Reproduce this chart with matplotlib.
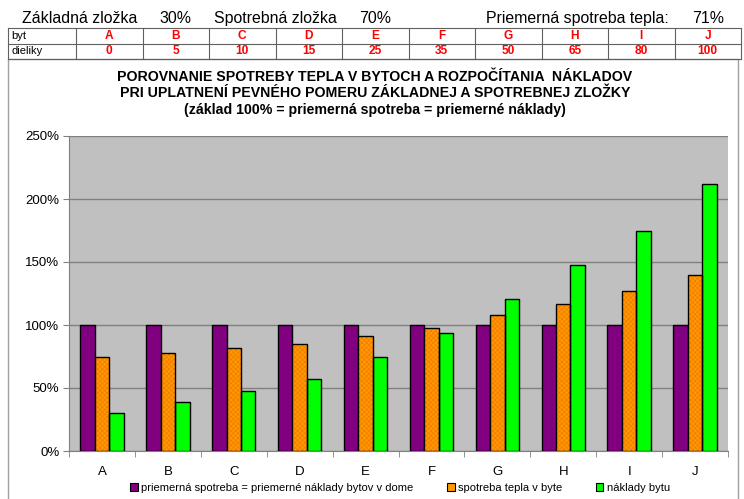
import matplotlib
matplotlib.use("Agg")
import matplotlib.pyplot as plt
from matplotlib.patches import Patch, Rectangle
from matplotlib.lines import Line2D
import numpy as np

plt.rcParams["font.family"] = ["Liberation Sans", "DejaVu Sans"]
plt.rcParams["hatch.linewidth"] = 0.45

W, H = 744, 499

BYTY = ["A", "B", "C", "D", "E", "F", "G", "H", "I", "J"]
DIELIKY = [0, 5, 10, 15, 25, 35, 50, 65, 80, 100]
PRIEMER = [100, 100, 100, 100, 100, 100, 100, 100, 100, 100]
SPOTREBA = [75, 78, 82, 85, 91, 98, 108, 117, 127, 140]
NAKLADY = [30, 39, 48, 57, 75, 94, 121, 148, 175, 212]
SERIES = ["priemerná spotreba = priemerné náklady bytov v dome",
          "spotreba tepla v byte", "náklady bytu"]
HEADER = [("Základná zložka", 22), ("30%", 159), ("Spotrebná zložka", 214),
          ("70%", 359), ("Priemerná spotreba tepla:", 486), ("71%", 692)]
TITLE = ["POROVNANIE SPOTREBY TEPLA V BYTOCH A ROZPOČÍTANIA  NÁKLADOV",
         "PRI UPLATNENÍ PEVNÉHO POMERU ZÁKLADNEJ A SPOTREBNEJ ZLOŽKY",
         "(základ 100% = priemerná spotreba = priemerné náklady)"]

PURPLE, ORANGE, GREEN = "#800080", "#FF9900", "#00FF00"


def fx(x):
    return x / W


def fy(y):
    return 1 - y / H


fig = plt.figure(figsize=(W / 100, H / 100), dpi=100)

# header line + table drawn in figure pixels
for txt, x in HEADER:
    fig.text(fx(x), fy(23), txt, fontsize=11.4, va="baseline", ha="left")

col_x = [8, 76] + [76 + 66.5 * (i + 1) for i in range(10)]
row_y = [28, 43.5, 59]
for y in row_y:
    fig.add_artist(Line2D([fx(8), fx(741)], [fy(y), fy(y)], color="#606060", lw=0.8))
for x in col_x:
    fig.add_artist(Line2D([fx(x), fx(x)], [fy(28), fy(59)], color="#606060", lw=0.8))
fig.text(fx(11), fy(36), "byt", fontsize=8, va="center")
fig.text(fx(11), fy(51.5), "dieliky", fontsize=8, va="center")
for i, (b, d) in enumerate(zip(BYTY, DIELIKY)):
    cx = fx((col_x[i + 1] + col_x[i + 2]) / 2)
    fig.text(cx, fy(36), b, fontsize=8.6, color="red", fontweight="bold", ha="center", va="center")
    fig.text(cx, fy(51.5), str(d), fontsize=8.6, color="red", fontweight="bold", ha="center", va="center")

# chart frame
fig.add_artist(Rectangle((fx(8), fy(520)), fx(738) - fx(8), fy(59) - fy(520),
                         fill=False, edgecolor="#A0A0A0", lw=1))

for line, y in zip(TITLE, (77, 93, 110)):
    fig.text(fx(375), fy(y), line, fontsize=10.2, fontweight="bold", ha="center", va="center")

ax = fig.add_axes([fx(69), fy(451), fx(728) - fx(69), fy(136) - fy(451)])
ax.set_facecolor("#C0C0C0")

x = np.arange(len(BYTY))
w = 0.22
ax.bar(x - w, PRIEMER, w, color=PURPLE, edgecolor="black", lw=1, zorder=3)
ax.bar(x, SPOTREBA, w, color=ORANGE, edgecolor="#F27800", hatch="xxxxxxx", lw=0, zorder=3)
ax.bar(x, SPOTREBA, w, fill=False, edgecolor="black", lw=1, zorder=4)
ax.bar(x + w, NAKLADY, w, color=GREEN, edgecolor="black", lw=1, zorder=3)

ax.set_xlim(-0.5, len(BYTY) - 0.5)
ax.set_ylim(0, 250)
ax.set_yticks(range(0, 251, 50))
ax.set_yticklabels([f"{v}%" for v in range(0, 251, 50)], fontsize=9.5)
ax.yaxis.grid(True, color="#808080", lw=1, zorder=1)
ax.set_axisbelow(True)
ax.tick_params(axis="y", length=4, color="#808080", pad=3)

ax.set_xticks(x)
ax.set_xticklabels(BYTY, fontsize=9.5)
ax.set_xticks(np.arange(-0.5, len(BYTY)), minor=True)
ax.tick_params(axis="x", which="major", length=0, pad=11)
ax.tick_params(axis="x", which="minor", length=4, color="#808080")

for side in ("top", "right"):
    ax.spines[side].set_visible(False)
for side in ("left", "bottom"):
    ax.spines[side].set_color("#808080")

handles = [Patch(facecolor=c, edgecolor="black", lw=0.8) for c in (PURPLE, ORANGE, GREEN)]
fig.legend(handles, SERIES, loc="center", bbox_to_anchor=(fx(400), fy(488)), ncol=3,
           fontsize=8, frameon=False, handlelength=0.7, handleheight=0.7,
           handletextpad=0.3, columnspacing=3.0, borderpad=0)

fig.savefig("out.png", dpi=100)
